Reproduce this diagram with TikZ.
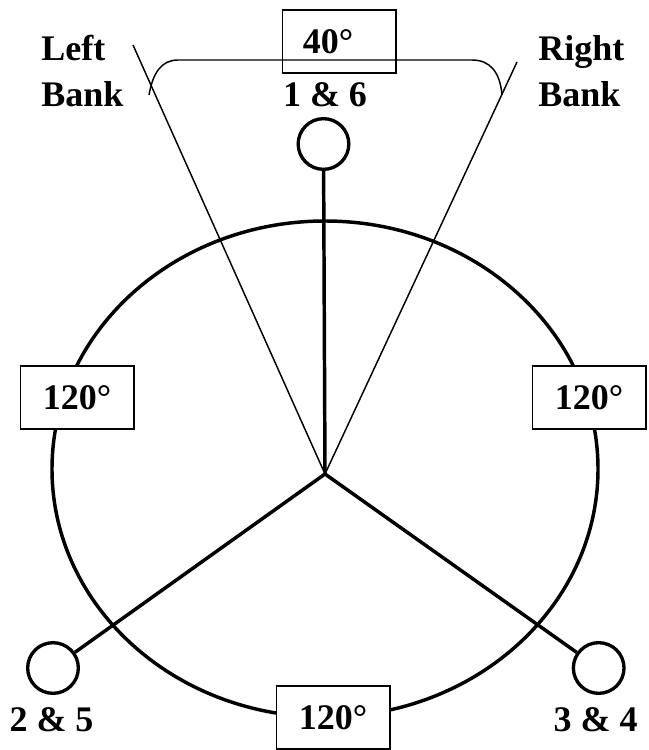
\documentclass[tikz,border=0pt]{standalone}
\usepackage{fontspec}
\setmainfont{Liberation Serif}
\tikzset{
  lbl/.style={font=\fontsize{27}{34.5}\selectfont\bfseries, inner sep=0pt, align=center},
  boxed/.style={lbl, draw=black, line width=1.25pt, fill=white, minimum height=47.5pt, minimum width=85pt},
  thin line/.style={line width=1.1pt},
  thick line/.style={line width=2.6pt},
  pin/.style={circle, draw=black, line width=2.5pt, minimum size=38pt, inner sep=0pt},
}
\begin{document}
\begin{tikzpicture}[x=0.75pt,y=-0.75pt]
\useasboundingbox (0,0) rectangle (649,750);
\coordinate (c) at (325,474);
\coordinate (lt) at (133,45);
\coordinate (rt) at (517,62);
\draw[thick line] (325,469) ellipse[x radius=273, y radius=248];
\node[pin] (p1) at (323.5,144) {};
\node[pin] (p2) at (53,668) {};
\node[pin] (p3) at (598.7,668) {};
\draw[thick line] (c) -- (p1);
\draw[thick line] (c) -- (p2);
\draw[thick line] (c) -- (p3);
\draw[thin line] (c) -- (lt);
\draw[thin line] (c) -- (rt);
\coordinate (bl) at (149,95);
\coordinate (br) at (502,95);
\draw[thin line] (bl) .. controls (153,72) and (162,60) .. (178,60) -- (472,60) .. controls (490,60) and (500,72) .. (br);
\node[boxed, fill=none] (a40) at (339,41.5) {40°\hspace*{16.5pt}};
\node[boxed] (a1) at (77,397.5) {120°};
\node[boxed] (a2) at (589,397.5) {120°};
\node[boxed] (a3) at (333,717.5) {120°};
\node[lbl, align=left, anchor=west] (lb) at (41,71) {Left\\Bank};
\node[lbl, align=left, anchor=west] (rb) at (538,71) {Right\\Bank};
\node[lbl] (t1) at (325,95) {1 \& 6};
\node[lbl] (t2) at (51.5,719.5) {2 \& 5};
\node[lbl] (t3) at (595.7,719.5) {3 \& 4};
\end{tikzpicture}
\end{document}
